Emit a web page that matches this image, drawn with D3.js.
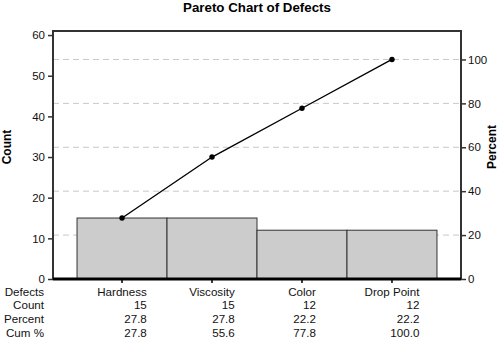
<!DOCTYPE html>
<html><head><meta charset="utf-8">
<script src="https://cdn.jsdelivr.net/npm/d3@7"></script>
<style>body{margin:0;background:#fff}svg{display:block}text{font-family:"Liberation Sans",Arial,sans-serif}</style>
</head><body><svg id="c" width="500" height="339"></svg>
<script>
const categories = ["Hardness","Viscosity","Color","Drop Point"];
const counts = [15,15,12,12];
const percents = [27.8,27.8,22.2,22.2];
const cumPercents = [27.8,55.6,77.8,100.0];
const countTicks = [0,10,20,30,40,50,60];
const percentTicks = [0,20,40,60,80,100];
const rowLabels = ["Defects","Count","Percent","Cum %"];
const title = "Pareto Chart of Defects";

const svg = d3.select("#c");
const L=53, R=461, T=31, B=279;
const total = d3.sum(counts);
const y = d3.scaleLinear().domain([0,61]).range([B,T]);
const yp = d3.scaleLinear().domain([0,100]).range([B,y(total)]);
const x = d3.scaleBand().domain(categories).range([L,R]).paddingInner(0).paddingOuter(0.267);
const cx = d => x(d)+x.bandwidth()/2;

// gridlines
svg.append("g").selectAll("line").data(percentTicks.filter(d=>d>0)).join("line")
  .attr("x1",L).attr("x2",R).attr("y1",d=>yp(d)).attr("y2",d=>yp(d))
  .attr("stroke","#c8c8c8").attr("stroke-width",1).attr("stroke-dasharray","6,4");

// bars
svg.append("g").selectAll("rect").data(categories).join("rect")
  .attr("x",d=>x(d)).attr("width",x.bandwidth())
  .attr("y",(d,i)=>y(counts[i])).attr("height",(d,i)=>B-y(counts[i]))
  .attr("fill","#cccccc").attr("stroke","#333").attr("stroke-width",1);

// frame
svg.append("path").attr("d",`M${L},${B}V${T}H${R}V${B}`).attr("fill","none").attr("stroke","#333").attr("stroke-width",2);

// left axis
const ga = svg.append("g").attr("transform",`translate(${L},0)`)
  .call(d3.axisLeft(y).tickValues(countTicks).tickSize(5).tickPadding(3));
ga.select(".domain").remove();
ga.selectAll("line").attr("stroke","#333").attr("stroke-width",1.5);
ga.selectAll("text").attr("font-size",11.5).attr("fill","#111");

// right axis
const gr = svg.append("g").attr("transform",`translate(${R},0)`)
  .call(d3.axisRight(yp).tickValues(percentTicks).tickSize(5).tickPadding(2));
gr.select(".domain").remove();
gr.selectAll("line").attr("stroke","#333").attr("stroke-width",1.5);
gr.selectAll("text").attr("font-size",11.5).attr("fill","#111");

// bottom axis
const gb = svg.append("g").attr("transform",`translate(0,${B})`)
  .call(d3.axisBottom(x).tickSize(4).tickFormat(""));
gb.select(".domain").attr("d",`M${L},0H${R}`).attr("stroke","#000").attr("stroke-width",3);
gb.selectAll("line").attr("stroke","#000").attr("stroke-width",1.5);

// cumulative line
const cumCounts = d3.cumsum(counts);
const line = d3.line().x((d,i)=>cx(categories[i])).y(d=>y(d));
svg.append("path").datum(Array.from(cumCounts)).attr("d",line).attr("fill","none").attr("stroke","#000").attr("stroke-width",1.4);
svg.append("g").selectAll("circle").data(Array.from(cumCounts)).join("circle")
  .attr("cx",(d,i)=>cx(categories[i])).attr("cy",d=>y(d)).attr("r",2.7).attr("fill","#000");

// titles
svg.append("text").attr("x",(L+R)/2).attr("y",12).attr("text-anchor","middle")
  .attr("font-size",13.3).attr("font-weight","bold").text(title);
svg.append("text").attr("transform","translate(11,147) rotate(-90)").attr("text-anchor","middle")
  .attr("font-size",12).attr("font-weight","bold").text("Count");
svg.append("text").attr("transform","translate(496,147) rotate(-90)").attr("text-anchor","middle")
  .attr("font-size",12).attr("font-weight","bold").text("Percent");

// table
const rowY = [295.5,309,323,337];
const tg = svg.append("g").attr("font-size",11.6).attr("fill","#111");
rowLabels.forEach((r,i)=>tg.append("text").attr("x",44).attr("y",rowY[i]).attr("text-anchor","end").text(r));
categories.forEach((c,i)=>{
  const t = tg.append("text").attr("x",cx(c)).attr("y",rowY[0]).attr("text-anchor","middle").text(c);
  const w = t.node().getComputedTextLength();
  const xr = cx(c)+w/2;
  [String(counts[i]),percents[i].toFixed(1),cumPercents[i].toFixed(1)].forEach((v,j)=>
    tg.append("text").attr("x",xr).attr("y",rowY[j+1]).attr("text-anchor","end").text(v));
});
</script></body></html>
